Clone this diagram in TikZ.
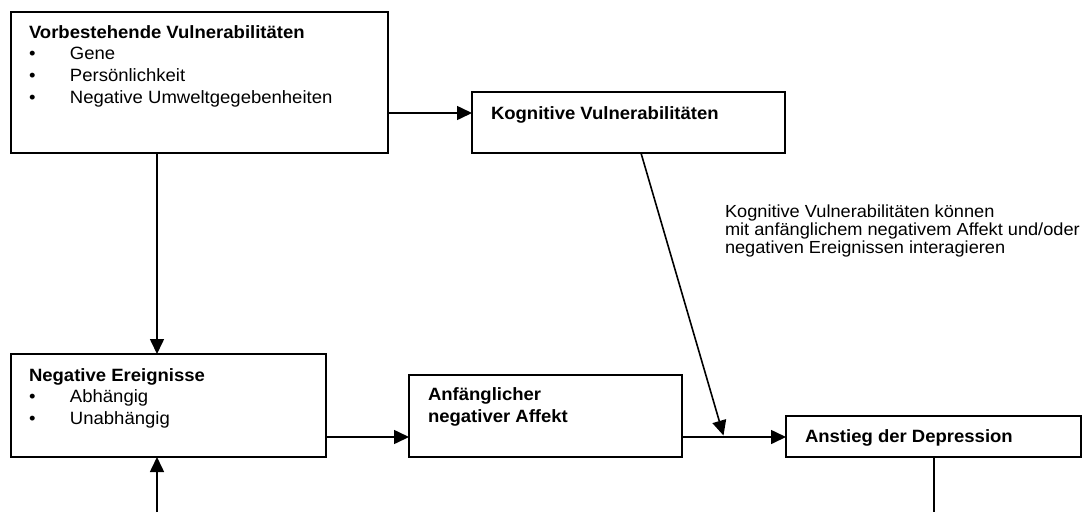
\documentclass[tikz,border=0pt]{standalone}
\usepackage{fontspec}
\setmainfont{Liberation Sans}[FakeStretch=1.04]
\usetikzlibrary{arrows.meta}

\begin{document}
\begin{tikzpicture}[x=1pt,y=-1pt,
  box/.style={draw,line width=2.3pt,inner sep=0pt,outer sep=0pt,anchor=north west},
  conn/.style={line width=1.6pt},
  arr/.style={conn,-{Triangle[length=15pt,width=14pt]}},
  txt/.style={anchor=base west,inner sep=0pt,outer sep=0pt,font=\fontsize{17.8}{21.8}\selectfont},
  note/.style={txt,font=\fontsize{17.5}{18.2}\selectfont}]
\useasboundingbox (0,0) rectangle (1088,512);

% boxes
\node[box,minimum width=377pt,minimum height=141pt] (vb) at (11,12) {};
\node[box,minimum width=313pt,minimum height=61pt]  (kv) at (472,92) {};
\node[box,minimum width=315pt,minimum height=103pt] (ne) at (11,354) {};
\node[box,minimum width=273pt,minimum height=82pt]  (na) at (409,375) {};
\node[box,minimum width=295pt,minimum height=41pt]  (ad) at (786,416) {};

% box texts
\node[txt] (vbt) at (29,38) {\begin{tabular}[t]{@{}p{41pt}@{}l@{}}
  \multicolumn{2}{@{}l@{}}{\bfseries Vorbestehende Vulnerabilitäten}\\
  \textbullet & Gene\\
  \textbullet & Persönlichkeit\\
  \textbullet & Negative Umweltgegebenheiten
\end{tabular}};
\node[txt] (kvt) at (491,119) {\bfseries Kognitive Vulnerabilitäten};
\node[txt] (net) at (29,381) {\begin{tabular}[t]{@{}p{41pt}@{}l@{}}
  \multicolumn{2}{@{}l@{}}{\bfseries Negative Ereignisse}\\
  \textbullet & Abhängig\\
  \textbullet & Unabhängig
\end{tabular}};
\node[txt] (nat) at (428,400.7) {\bfseries\begin{tabular}[t]{@{}l@{}}
  Anfänglicher\\ negativer Affekt
\end{tabular}};
\node[txt] (adt) at (805,442) {\bfseries Anstieg der Depression};

% annotation
\node[note] (hint) at (725,217) {\begin{tabular}[t]{@{}l@{}}
  Kognitive Vulnerabilitäten können\\
  mit anfänglichem negativem Affekt und/oder\\
  negativen Ereignissen interagieren
\end{tabular}};

% free ends
\coordinate (inlow) at (157,512);
\coordinate (outlow) at (934,512);
\coordinate (meet) at (723.5,435.5);

% connectors
\draw[arr] ([yshift=-101pt]vb.north east) -- ([yshift=-21pt]kv.north west);
\draw[arr] ([xshift=146pt]vb.south west) -- ([xshift=146pt]ne.north west);
\draw[arr] (inlow) -- ([xshift=146pt]ne.south west);
\draw[arr] ([yshift=-83pt]ne.north east) -- ([yshift=-62pt]na.north west);
\draw[arr] ([yshift=-62pt]na.north east) -- ([yshift=-21pt]ad.north west);
\draw[arr] ([xshift=169pt]kv.south west) -- (meet);
\draw[conn] ([xshift=148pt]ad.south west) -- (outlow);
\end{tikzpicture}
\end{document}
